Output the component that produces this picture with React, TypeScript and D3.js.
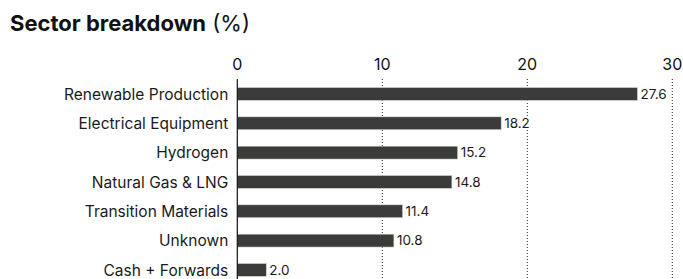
import React from "react";
import * as d3 from "d3";

const sectors = [
  "Renewable Production",
  "Electrical Equipment",
  "Hydrogen",
  "Natural Gas & LNG",
  "Transition Materials",
  "Unknown",
  "Cash + Forwards",
];
const weights = [27.6, 18.2, 15.2, 14.8, 11.4, 10.8, 2.0];
const xTicks = [0, 10, 20, 30];

const width = 683;
const height = 279;
const font = "Inter, 'Noto Sans', sans-serif";
const barColor = "#3b3b39";

export default function App() {
  const x = d3.scaleLinear().domain([0, 30]).range([237.3, 672.3]);
  const y = d3
    .scaleBand<string>()
    .domain(sectors)
    .range([79.3, 284.6])
    .paddingInner(0.56)
    .paddingOuter(0.28);

  return (
    <div>
      <style>{`body{margin:0}`}</style>
      <svg width={width} height={height} style={{ display: "block" }} fontFamily={font}>
        <text x={10} y={31} fontSize={22} fill="#111">
          <tspan fontWeight={700}>Sector breakdown</tspan>
          <tspan fontWeight={400}> (%)</tspan>
        </text>

        {/* tick labels + dotted grid */}
        {xTicks.map((t) => (
          <g key={t}>
            <text x={x(t)} y={70} fontSize={16} textAnchor="middle" fill="#111">
              {t}
            </text>
            {t > 0 && (
              <line
                x1={x(t)}
                x2={x(t)}
                y1={79}
                y2={height}
                stroke="#222"
                strokeWidth={1}
                strokeDasharray="1,2"
              />
            )}
          </g>
        ))}

        {/* bars */}
        {sectors.map((s, i) => (
          <g key={s}>
            <rect
              x={x(0)}
              y={y(s)}
              width={x(weights[i]) - x(0)}
              height={y.bandwidth()}
              fill={barColor}
              stroke="#d8d8d8"
              strokeWidth={0.6}
            />
            <text
              x={x(0) - 9}
              y={(y(s) ?? 0) + y.bandwidth() / 2}
              dy="0.36em"
              fontSize={15.5}
              textAnchor="end"
              fill="#1a1a1a"
            >
              {s}
            </text>
            <text
              x={x(weights[i]) + 3}
              y={(y(s) ?? 0) + y.bandwidth() / 2}
              dy="0.36em"
              fontSize={13.5}
              fill="#1a1a1a"
              stroke="#fff"
              strokeWidth={3}
              paintOrder="stroke"
            >
              {weights[i].toFixed(1)}
            </text>
          </g>
        ))}

        {/* zero axis */}
        <line x1={x(0)} x2={x(0)} y1={79} y2={height} stroke="#111" strokeWidth={1.2} />
      </svg>
    </div>
  );
}
